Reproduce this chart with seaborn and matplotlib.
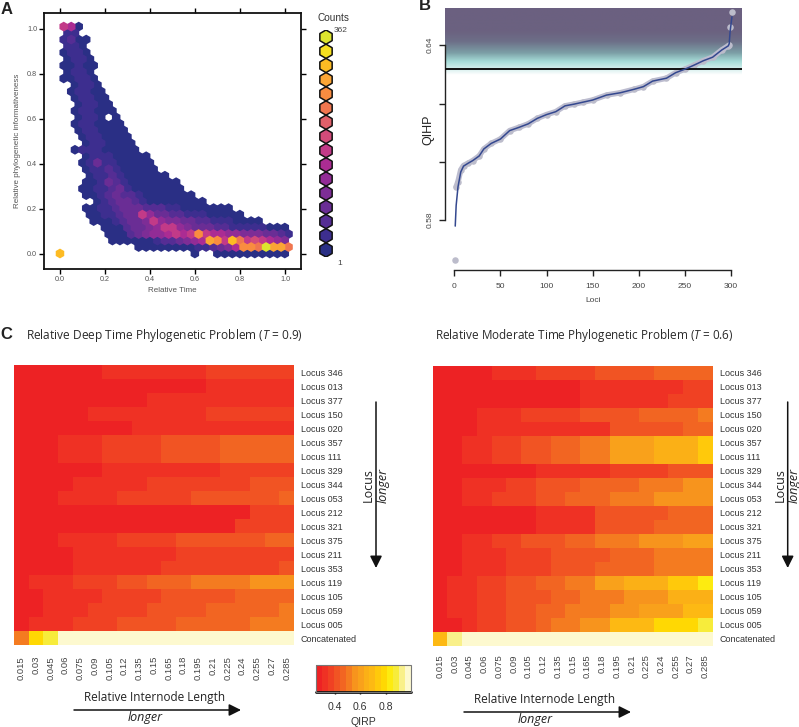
import numpy as np
import pandas as pd
import matplotlib
matplotlib.use('Agg')
import matplotlib.pyplot as plt
from matplotlib.colors import ListedColormap, LinearSegmentedColormap
import seaborn as sns

sns.set_theme(style='white')
plt.rcParams['font.family'] = ['Liberation Sans', 'DejaVu Sans']
plt.rcParams['mathtext.fontset'] = 'custom'
plt.rcParams['mathtext.it'] = 'Open Sans:italic'
plt.rcParams['mathtext.rm'] = 'Open Sans'

W, H = 799, 727

# panel A: hexagon rows from y=0 upward, one character per hexagon (. = empty), 0-f = count level
hex_rows = [
    'd.................0..0000000000',
    '..........0000000011' + '2346bbafcca',
    '.......000000' + '1223456' + 'cb7da787654',
    '......000' + '234556' + '767b76655444' + '3321',
    '......000' + '23345775433322' + '11111000',
    '....00012' + '334754433221' + '110000',
    '....0011' + '233753322111' + '00000',
    '...0011233322211' + '0000000',
    '.....012332100' + '000000',
    '...001232210' + '000000',
    '...00112310' + '000000',
    '...0013210' + '000000',
    '....011210' + '00000',
    '...011210' + '0000',
    '...013110' + '0000',
    '...01110' + '0000',
    '..01110' + '0000',
    '...0110' + '000',
    '...0110' + '000',
    '..0110' + '000',
    '..0110' + '000',
    '..0110.0',
    '..011000',
    '..01100',
    '..01100',
    '.01100',
    '..0110',
    '00110',
    '.0110',
    '00100',
    '.0110',
    '0110',
    '.110',
    '1200',
    '.11',
    '760',
]
hex_dx = 0.0333
hex_dy = 0.02887
count_colors = ['#2a2f85', '#3d2e8f', '#552d94', '#6a2d95', '#7d2d96', '#922c96', '#ab2c93', '#c23a88',
                '#d24b7a', '#e0606a', '#f0764f', '#f98c40', '#fba535', '#fdbb23', '#f6e01f', '#dde52e']

# panel B
loci = [1, 2, 4, 7, 10, 15, 20, 27, 32, 40, 50, 60, 70, 80, 90, 100, 110, 120, 130, 140, 150, 165,
        180, 195, 205, 215, 230, 240, 250, 260, 270, 280, 290, 297, 298, 299, 301]
qihp = [.5663, .5914, .5932, .5972, .5987, .5995, .6004, .6020, .6044, .6063, .6078, .6107, .6118, .6130,
        .6149, .6162, .6172, .6192, .6198, .6205, .6212, .6229, .6237, .6249, .6258, .6277, .6287, .6306,
        .6318, .6332, .6347, .6359, .6384, .6398, .6400, .6462, .6513]
fit = [.5779, .5850, .5914, .5965, .5985, .5995, .6004, .6020, .6044, .6063, .6078, .6107, .6118, .6130,
       .6149, .6162, .6172, .6192, .6198, .6205, .6212, .6229, .6237, .6249, .6258, .6277, .6287, .6306,
       .6318, .6332, .6347, .6359, .6384, .6398, .6405, .6447, .6498]
threshold = .6318

# panel C
locus_names = ['Locus 346', 'Locus 013', 'Locus 377', 'Locus 150', 'Locus 020', 'Locus 357', 'Locus 111',
               'Locus 329', 'Locus 344', 'Locus 053', 'Locus 212', 'Locus 321', 'Locus 375', 'Locus 211',
               'Locus 353', 'Locus 119', 'Locus 105', 'Locus 059', 'Locus 005', 'Concatenated']
internode = ['0.015', '0.03', '0.045', '0.06', '0.075', '0.09', '0.105', '0.12', '0.135', '0.15', '0.165',
             '0.18', '0.195', '0.21', '0.225', '0.24', '0.255', '0.27', '0.285']
# QIRP in hundredths
deep_qirp = [
    [27, 27, 27, 27, 27, 27, 32, 32, 32, 32, 32, 32, 32, 37, 37, 37, 37, 37, 37],
    [27, 27, 27, 27, 27, 27, 27, 27, 27, 27, 27, 27, 27, 32, 32, 32, 32, 32, 32],
    [27, 27, 27, 27, 27, 27, 27, 27, 27, 32, 32, 32, 32, 32, 32, 32, 32, 32, 32],
    [27, 27, 27, 27, 27, 32, 32, 32, 32, 32, 32, 32, 32, 37, 37, 37, 37, 37, 37],
    [27, 27, 27, 27, 27, 27, 27, 27, 32, 32, 32, 32, 32, 32, 32, 32, 32, 32, 32],
    [27, 27, 27, 32, 32, 32, 37, 37, 37, 37, 41, 41, 41, 41, 46, 46, 46, 46, 46],
    [27, 27, 27, 32, 32, 32, 37, 37, 37, 37, 41, 41, 41, 41, 46, 46, 46, 46, 46],
    [27, 27, 27, 27, 27, 27, 32, 32, 32, 32, 32, 32, 32, 32, 37, 37, 37, 37, 37],
    [27, 27, 27, 27, 32, 32, 32, 32, 32, 37, 37, 37, 37, 37, 37, 37, 41, 41, 41],
    [27, 27, 27, 32, 32, 32, 32, 37, 37, 37, 37, 37, 41, 41, 41, 41, 41, 41, 46],
    [27, 27, 27, 27, 27, 27, 27, 27, 27, 27, 27, 27, 27, 27, 27, 27, 37, 37, 37],
    [27, 27, 27, 27, 27, 27, 27, 27, 27, 27, 27, 27, 27, 27, 27, 37, 37, 37, 37],
    [27, 27, 27, 32, 32, 32, 32, 37, 37, 37, 37, 41, 41, 41, 41, 41, 41, 46, 46],
    [27, 27, 27, 27, 32, 32, 32, 32, 32, 32, 32, 37, 37, 37, 37, 37, 37, 37, 37],
    [27, 27, 27, 27, 32, 32, 32, 32, 32, 32, 37, 37, 37, 37, 37, 37, 37, 37, 41],
    [27, 32, 32, 32, 37, 37, 37, 41, 41, 46, 46, 46, 51, 51, 51, 51, 55, 55, 55],
    [27, 27, 32, 32, 32, 32, 37, 37, 37, 37, 41, 41, 41, 41, 41, 46, 46, 46, 46],
    [27, 27, 32, 32, 32, 37, 37, 37, 37, 41, 41, 41, 41, 46, 46, 46, 46, 46, 51],
    [27, 32, 32, 32, 37, 37, 37, 41, 41, 41, 41, 46, 46, 46, 46, 46, 51, 51, 51],
    [51, 79, 88, 98, 98, 98, 98, 98, 98, 98, 98, 98, 98, 98, 98, 98, 98, 98, 98],
]
moderate_qirp = [
    [27, 27, 27, 27, 32, 32, 32, 37, 37, 37, 37, 41, 41, 41, 41, 46, 46, 46, 46],
    [27, 27, 27, 27, 27, 27, 27, 27, 27, 27, 32, 32, 32, 32, 32, 32, 32, 37, 37],
    [27, 27, 27, 27, 27, 27, 27, 27, 27, 27, 32, 32, 32, 32, 32, 32, 37, 37, 37],
    [27, 27, 27, 32, 32, 32, 37, 37, 37, 37, 41, 41, 41, 41, 46, 46, 46, 46, 51],
    [27, 27, 27, 32, 32, 32, 32, 32, 32, 32, 32, 32, 41, 41, 41, 41, 41, 46, 46],
    [27, 27, 32, 32, 37, 37, 41, 41, 46, 46, 51, 51, 60, 60, 60, 65, 65, 65, 74],
    [27, 27, 32, 32, 37, 37, 41, 41, 46, 46, 51, 51, 60, 60, 60, 65, 65, 65, 74],
    [27, 27, 27, 27, 27, 27, 27, 32, 32, 32, 32, 32, 37, 37, 37, 37, 41, 41, 41],
    [27, 27, 32, 32, 32, 37, 37, 41, 41, 41, 46, 46, 46, 46, 51, 51, 51, 55, 55],
    [27, 27, 32, 32, 37, 37, 37, 41, 41, 46, 46, 46, 51, 51, 51, 55, 55, 55, 55],
    [27, 27, 27, 27, 27, 27, 27, 32, 32, 32, 32, 41, 41, 41, 41, 41, 46, 46, 46],
    [27, 27, 27, 27, 27, 27, 27, 32, 32, 32, 32, 41, 41, 41, 41, 46, 46, 46, 46],
    [27, 27, 32, 32, 37, 37, 41, 41, 41, 46, 46, 51, 51, 51, 55, 55, 55, 60, 60],
    [27, 27, 32, 32, 32, 37, 37, 37, 41, 41, 41, 41, 46, 46, 46, 51, 51, 51, 51],
    [27, 27, 32, 32, 32, 37, 37, 37, 41, 41, 41, 46, 46, 46, 46, 51, 51, 51, 51],
    [27, 32, 32, 37, 37, 41, 41, 46, 46, 51, 51, 60, 60, 65, 65, 65, 74, 74, 84],
    [27, 32, 32, 37, 37, 41, 41, 41, 46, 46, 51, 51, 51, 55, 55, 55, 65, 65, 65],
    [27, 32, 32, 37, 37, 41, 41, 46, 46, 51, 51, 51, 55, 55, 60, 60, 60, 69, 69],
    [27, 27, 32, 37, 37, 41, 41, 46, 51, 51, 55, 55, 69, 69, 69, 79, 79, 79, 88],
    [69, 93, 98, 98, 98, 98, 98, 98, 98, 98, 98, 98, 98, 98, 98, 98, 98, 98, 98],
]
heat_colors = ['#ed2224', '#ef3124', '#f04123', '#f15423', '#f26522', '#f47b20', '#f7941d', '#f9a11b',
               '#fbb016', '#fdb913', '#ffc90b', '#ffd803', '#fdeb10', '#f7ec3b', '#f9f08a', '#fdf9cf']


def box(left, top, right, bottom):
    return [left / W, 1 - bottom / H, (right - left) / W, (bottom - top) / H]


def put(x, y, s, **kw):
    kw.setdefault('ha', 'center')
    kw.setdefault('va', 'center')
    fig.text(x / W, 1 - y / H, s, **kw)


def arrow(x0, y0, x1, y1):
    fig.axes[0].annotate('', xy=(x1 / W, 1 - y1 / H), xytext=(x0 / W, 1 - y0 / H),
                         xycoords='figure fraction', textcoords='figure fraction',
                         arrowprops=dict(arrowstyle='-|>', color='#111111', lw=1.1, mutation_scale=18,
                                         shrinkA=0, shrinkB=0))


fig = plt.figure(figsize=(W / 100, H / 100), dpi=100)
grey = '#555555'

# A: hexagons
hex_cells = []
for k, row in enumerate(hex_rows):
    for i, ch in enumerate(row):
        if ch != '.':
            hex_cells.append({'x': (i + 0.5 * (k % 2)) * hex_dx, 'y': k * hex_dy, 'level': int(ch, 16)})
hex_df = pd.DataFrame(hex_cells).sort_values('level')
palette = dict(enumerate(count_colors))

ax_a = fig.add_axes(box(44, 13, 301, 269))
sns.scatterplot(data=hex_df, x='x', y='y', hue='level', palette=palette, marker='h', s=50,
                linewidth=0, legend=False, ax=ax_a)
ax_a.set_xlim(-0.071, 1.071)
ax_a.set_ylim(-0.069, 1.071)
ax_a.set_xticks([0, .2, .4, .6, .8, 1])
ax_a.set_yticks([0, .2, .4, .6, .8, 1])
ax_a.set_xticklabels(['0.0', '0.2', '0.4', '0.6', '0.8', '1.0'])
ax_a.set_yticklabels(['0.0', '0.2', '0.4', '0.6', '0.8', '1.0'])
ax_a.tick_params(axis='both', which='both', direction='out', length=3.5, width=1, color='black',
                 top=True, right=True, bottom=True, left=True, labelsize=5.2, labelcolor=grey, pad=1.5)
ax_a.set_xlabel('Relative Time', fontsize=5.8, color=grey, labelpad=3)
ax_a.set_ylabel('Relative phylogenetic informativeness', fontsize=5.8, color=grey, labelpad=4)
for sp in ax_a.spines.values():
    sp.set_visible(True)
    sp.set_color('#111111')
    sp.set_linewidth(1.3)

# A: count key
key_df = pd.DataFrame({'x': [0] * 16, 'y': list(range(16)), 'level': list(range(16))})
ax_key = fig.add_axes(box(316, 30, 336, 257))
sns.scatterplot(data=key_df, x='x', y='y', hue='level', palette=palette, marker='h', s=105,
                edgecolor='#111111', linewidth=1.1, legend=False, ax=ax_key)
ax_key.set_ylim(-0.5, 15.5)
ax_key.axis('off')
put(333, 18, 'Counts', fontsize=7.2, color='#333333')
put(341, 31, '362', fontsize=6, color='#444444')
put(340, 263, '1', fontsize=6, color='#444444')

# B: sorted loci
ax_b = fig.add_axes(box(445, 8, 742, 270))
band = LinearSegmentedColormap.from_list('band', [(0, '#ffffff'), (.09, '#d5efed'), (.20, '#a6dcd8'),
                                                  (.33, '#7c9fa6'), (.50, '#6d6f88'), (.65, '#6b6280'),
                                                  (1, '#6b6080')])
ax_b.imshow(np.linspace(1, 0, 200).reshape(-1, 1), cmap=band, aspect='auto', vmin=0, vmax=1,
            extent=(-10.1, 311.9, .6298, .6528), zorder=0)
ax_b.set_xlim(-10.1, 311.9)
ax_b.set_ylim(.56282, .65281)
sns.lineplot(x=loci[1:35], y=qihp[1:35], color='#bdbdd0', lw=4, ax=ax_b, zorder=2)
sns.scatterplot(x=loci, y=qihp, color='#bcbccb', s=22, linewidth=0, ax=ax_b, zorder=3)
ax_b.axhline(threshold, color='#111111', lw=1.4, zorder=4)
sns.lineplot(x=loci, y=fit, color='#34488f', lw=1.1, ax=ax_b, zorder=5)
for side in ['top', 'right']:
    ax_b.spines[side].set_visible(False)
ax_b.spines['left'].set_bounds(.58, .64)
ax_b.spines['bottom'].set_bounds(0, 300)
for side in ['left', 'bottom']:
    ax_b.spines[side].set_color('#222222')
    ax_b.spines[side].set_linewidth(1)
ax_b.set_xticks([0, 50, 100, 150, 200, 250, 300])
ax_b.set_yticks([.58, .60, .62, .64])
ax_b.set_yticklabels(['0.58', '', '', '0.64'], rotation=90, va='center')
ax_b.tick_params(axis='x', direction='out', length=4, width=1, color='#222222', bottom=True,
                 labelsize=6, labelcolor='#444444', pad=5.5)
ax_b.tick_params(axis='y', direction='out', length=4, width=1, color='#222222', left=True,
                 labelsize=6, labelcolor='#444444', pad=4.5)
ax_b.set_xlabel('Loci', fontsize=6, color='#444444', labelpad=5)
ax_b.set_ylabel('QIHP', fontsize=9, color='#222222')
ax_b.yaxis.set_label_coords(-.037, .534)

# C: heatmaps
heat = ListedColormap(heat_colors)
ax_deep = fig.add_axes(box(14, 365, 294, 645))
ax_mod = fig.add_axes(box(432.7, 366, 712.7, 646))
ax_cbar = fig.add_axes(box(316, 665, 411, 692))
deep_df = pd.DataFrame(np.array(deep_qirp) / 100, index=locus_names, columns=internode)
mod_df = pd.DataFrame(np.array(moderate_qirp) / 100, index=locus_names, columns=internode)
sns.heatmap(deep_df, ax=ax_deep, cmap=heat, vmin=.25, vmax=1, cbar_ax=ax_cbar,
            cbar_kws={'orientation': 'horizontal'}, xticklabels=True, yticklabels=True)
sns.heatmap(mod_df, ax=ax_mod, cmap=heat, vmin=.25, vmax=1, cbar=False, xticklabels=True, yticklabels=True)
for ax, pad in [(ax_deep, 8), (ax_mod, 6)]:
    ax.yaxis.tick_right()
    ax.tick_params(axis='y', length=0, labelsize=6.5, labelcolor='#333333', pad=5, labelrotation=0)
    ax.tick_params(axis='x', length=0, labelsize=6.8, labelcolor='#444444', pad=pad, labelrotation=90)

ax_cbar.set_xticks([.4, .6, .8])
ax_cbar.set_xticklabels(['0.4', '0.6', '0.8'])
ax_cbar.tick_params(axis='x', direction='inout', length=3, width=1, color='#111111', bottom=True,
                    labelsize=7.6, labelcolor='#333333', pad=6)
ax_cbar.set_xlabel('QIRP', fontsize=7.6, color='#333333', labelpad=3)
cb = ax_deep.collections[0].colorbar
cb.outline.set_edgecolor('#777777')
cb.outline.set_linewidth(.8)
ax_cbar.axhline(0, color='#111111', lw=2, clip_on=False)

# labels and arrows laid over everything
put(7, 9, 'A', fontsize=12, fontweight='bold', color='#222222')
put(425, 6, 'B', fontsize=12, fontweight='bold', color='#222222')
put(6, 334, 'C', fontsize=12, fontweight='bold', color='#222222')
title_font = ['Open Sans', 'DejaVu Sans']
put(26, 335, r'Relative Deep Time Phylogenetic Problem ($T$ = 0.9)', ha='left', fontsize=8.6,
    family=title_font, color='#2a2a2a')
put(435, 335, r'Relative Moderate Time Phylogenetic Problem ($T$ = 0.6)', ha='left', fontsize=8.5,
    family=title_font, color='#2a2a2a')
for x_text, x_long, y_text, y_long, x0, x1, y_arrow in [(155, 145, 698, 718, 74, 241, 710),
                                                        (545, 535, 700, 720, 464, 631, 712)]:
    put(x_text, y_text, 'Relative Internode Length', fontsize=8.5, family=title_font, color='#222222')
    put(x_long, y_long, 'longer', fontsize=9, family=title_font, style='italic', color='#222222')
    arrow(x0, y_arrow, x1, y_arrow)
for x_locus, x_long, x_arrow in [(368, 383, 376), (780, 794, 787.7)]:
    put(x_locus, 485, 'Locus', fontsize=9, family=title_font, rotation=90, color='#222222')
    put(x_long, 485, 'longer', fontsize=9, family=title_font, style='italic', rotation=90, color='#222222')
    arrow(x_arrow, 402, x_arrow, 568)

fig.savefig('out.png', dpi=100)
